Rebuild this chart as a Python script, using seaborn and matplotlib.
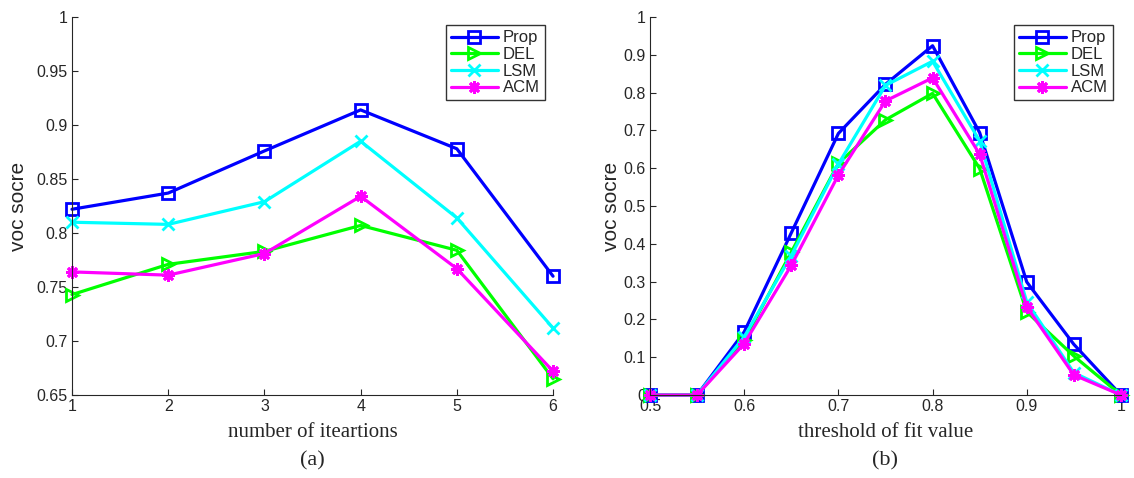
import numpy as np
import pandas as pd
import matplotlib
matplotlib.use("Agg")
import matplotlib.pyplot as plt
import seaborn as sns

# (a) voc score vs number of iterations
iters = [1, 2, 3, 4, 5, 6]
prop_a = [0.822, 0.837, 0.876, 0.914, 0.878, 0.760]
del_a = [0.743, 0.771, 0.783, 0.807, 0.784, 0.665]
lsm_a = [0.810, 0.808, 0.829, 0.885, 0.814, 0.712]
acm_a = [0.764, 0.761, 0.781, 0.834, 0.767, 0.672]

# (b) voc score vs threshold of fit value
thresh = [0.5, 0.55, 0.6, 0.65, 0.7, 0.75, 0.8, 0.85, 0.9, 0.95, 1.0]
prop_b = [0.0, 0.0, 0.167, 0.429, 0.692, 0.822, 0.924, 0.694, 0.299, 0.134, 0.0]
del_b = [0.0, 0.0, 0.145, 0.378, 0.613, 0.728, 0.798, 0.599, 0.220, 0.103, 0.0]
lsm_b = [0.0, 0.0, 0.154, 0.369, 0.611, 0.819, 0.883, 0.672, 0.246, 0.059, 0.0]
acm_b = [0.0, 0.0, 0.136, 0.343, 0.582, 0.778, 0.839, 0.637, 0.233, 0.053, 0.0]

methods = ["Prop", "DEL", "LSM", "ACM"]
colors = ["#0000ff", "#00ff00", "#00ffff", "#ff00ff"]
# matlab-like markers: open square, open right triangle, x, line asterisk
markers = ["s", ">", "x", (8, 2, 0)]

sns.set_style("ticks")
plt.rcParams["font.family"] = ["Liberation Sans", "DejaVu Sans"]

fig = plt.figure(figsize=(11.34, 4.78), dpi=100)
ax1 = fig.add_axes([0.0635, 0.1736, 0.4242, 0.7908])
ax2 = fig.add_axes([0.5732, 0.1736, 0.4153, 0.7908])


def draw(ax, x, series):
    for name, ys, c, m in zip(methods, series, colors, markers):
        kw = dict(markerfacecolor="none") if m in ("s", ">") else {}
        sns.lineplot(x=x, y=ys, ax=ax, color=c, marker=m, markersize=9,
                     markeredgecolor=c, markeredgewidth=2, linewidth=2.3,
                     label=name, clip_on=False, **kw)
    leg = ax.legend(loc="upper right", fontsize=12, frameon=True, fancybox=False,
                    edgecolor="black", borderpad=0.3, labelspacing=0.1,
                    handlelength=2.8, handletextpad=0.3, borderaxespad=0.5)
    leg.get_frame().set_linewidth(1.0)
    sns.despine(ax=ax)
    ax.tick_params(direction="in", labelsize=11.5, length=4, width=0.8, pad=3)
    for s in ax.spines.values():
        s.set_linewidth(0.8)


draw(ax1, iters, [prop_a, del_a, lsm_a, acm_a])
ax1.set_xlim(1, 6)
ax1.set_ylim(0.65, 1.0)
ax1.set_xticks(iters)
yt1 = [0.65, 0.7, 0.75, 0.8, 0.85, 0.9, 0.95, 1.0]
ax1.set_yticks(yt1)
ax1.set_yticklabels(["0.65", "0.7", "0.75", "0.8", "0.85", "0.9", "0.95", "1"])
ax1.set_xlabel("number of iteartions", family="Liberation Serif", fontsize=15, labelpad=6)
ax1.set_ylabel("voc socre", fontsize=15, labelpad=6)

draw(ax2, thresh, [prop_b, del_b, lsm_b, acm_b])
ax2.set_xlim(0.5, 1.0)
ax2.set_ylim(0, 1.0)
ax2.set_xticks([0.5, 0.6, 0.7, 0.8, 0.9, 1.0])
ax2.set_xticklabels(["0.5", "0.6", "0.7", "0.8", "0.9", "1"])
ax2.set_yticks(np.round(np.arange(0, 1.01, 0.1), 1))
ax2.set_yticklabels(["0"] + ["%.1f" % v for v in np.arange(0.1, 0.95, 0.1)] + ["1"])
ax2.set_xlabel("threshold of fit value", family="Liberation Serif", fontsize=15, labelpad=6)
ax2.set_ylabel("voc socre", fontsize=15, labelpad=2)

fig.text(0.2756, 0.027, "(a)", family="Liberation Serif", fontsize=16, ha="center")
fig.text(0.7808, 0.027, "(b)", family="Liberation Serif", fontsize=16, ha="center")

fig.savefig("out.png", dpi=100)
